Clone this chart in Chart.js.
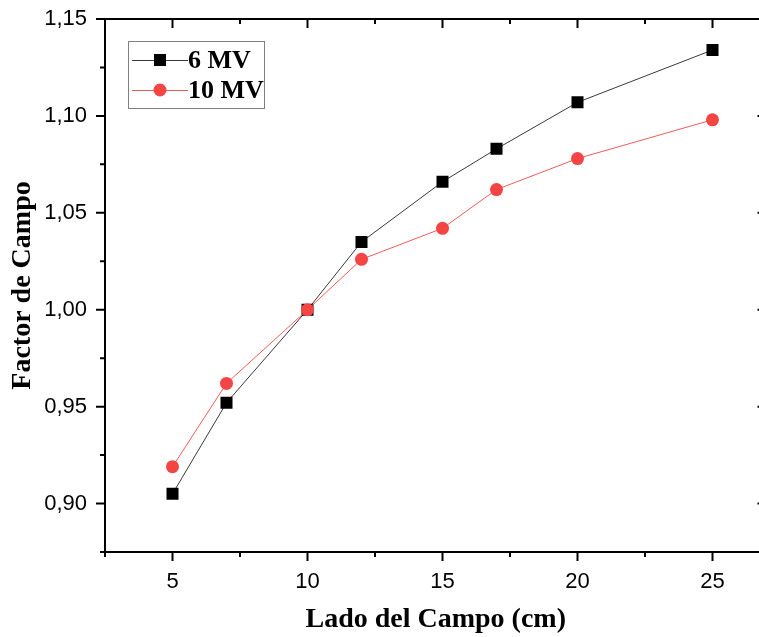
<!DOCTYPE html>
<html>
<head>
<meta charset="utf-8">
<title>Factor de Campo</title>
<script src="https://cdn.jsdelivr.net/npm/chart.js@4"></script>
<style>
  html, body { margin: 0; padding: 0; background: #fff; overflow: hidden; }
  .wrap { width: 775px; height: 637px; }
  #chart { display: block; }
</style>
</head>
<body>
<div class="wrap"><canvas id="chart" width="775" height="637"></canvas></div>
<script>
// Lado del campo (cm) y factor de campo medido para cada energía
const fieldSize = [5, 7, 10, 12, 15, 17, 20, 25];
const factor6MV = [0.905, 0.952, 1.000, 1.035, 1.066, 1.083, 1.107, 1.134];
const factor10MV = [0.919, 0.962, 1.000, 1.026, 1.042, 1.062, 1.078, 1.098];

// Marcas de los ejes (mayores y menores)
const xTicks = [2.5, 5, 7.5, 10, 12.5, 15, 17.5, 20, 22.5, 25];
const yTicks = [0.875, 0.9, 0.925, 0.95, 0.975, 1.0, 1.025, 1.05, 1.075, 1.1, 1.125, 1.15];

const isMajorX = v => Math.abs(v / 5 - Math.round(v / 5)) < 1e-6;
const isMajorY = v => Math.abs(v * 20 - Math.round(v * 20)) < 1e-6;

const serif = "'Liberation Serif', 'Times New Roman', serif";
const sans = "'Liberation Sans', Arial, sans-serif";

// tamaño fijo de cada eje, sin el margen extra que añade Chart.js por las etiquetas
function fixBox(s, size) {
    if (s.isHorizontal()) s.height = size; else s.width = size;
    s.paddingTop = s.paddingBottom = s.paddingLeft = s.paddingRight = 0;
}

// Marco completo con marcas: abajo/izquierda hacia fuera, arriba/derecha hacia dentro
const framePlugin = {
    id: 'frame',
    afterDraw(chart) {
        const { ctx, chartArea: a, scales } = chart;
        const major = 9, minor = 5;
        ctx.save();
        ctx.strokeStyle = '#000';
        ctx.lineWidth = 2;
        ctx.beginPath();
        scales.x.ticks.forEach(t => {
            const px = scales.x.getPixelForValue(t.value);
            const len = isMajorX(t.value) ? major : minor;
            ctx.moveTo(px, a.bottom); ctx.lineTo(px, a.bottom + len);
            ctx.moveTo(px, a.top); ctx.lineTo(px, a.top + len);
        });
        scales.y.ticks.forEach(t => {
            const py = scales.y.getPixelForValue(t.value);
            const len = isMajorY(t.value) ? major : minor;
            ctx.moveTo(a.left, py); ctx.lineTo(a.left - len, py);
            ctx.moveTo(a.right, py); ctx.lineTo(a.right - len, py);
        });
        ctx.stroke();
        ctx.strokeRect(a.left, a.top, a.right - a.left, a.bottom - a.top);
        ctx.restore();
    }
};

// Leyenda con línea y marcador, dentro de un recuadro gris
const legendPlugin = {
    id: 'boxLegend',
    afterDraw(chart) {
        const { ctx } = chart;
        const box = { x: 128, y: 41, w: 136, h: 67 };
        ctx.save();
        ctx.strokeStyle = '#808080';
        ctx.lineWidth = 1;
        ctx.strokeRect(box.x + 0.5, box.y + 0.5, box.w, box.h);
        chart.data.datasets.forEach((ds, i) => {
            const y = 60 + i * 30;
            ctx.strokeStyle = ds.borderColor;
            ctx.lineWidth = ds.borderWidth;
            ctx.beginPath();
            ctx.moveTo(132, y + 0.5);
            ctx.lineTo(188, y + 0.5);
            ctx.stroke();
            ctx.fillStyle = ds.pointBackgroundColor;
            Chart.helpers.drawPoint(ctx, {
                pointStyle: ds.pointStyle,
                radius: ds.pointRadius,
                borderWidth: 0,
                rotation: 0
            }, 160, y);
            ctx.fillStyle = '#000';
            ctx.font = 'bold 26px ' + serif;
            ctx.textBaseline = 'middle';
            ctx.textAlign = 'left';
            ctx.fillText(ds.label, 188, y + 1);
        });
        ctx.restore();
    }
};

new Chart(document.getElementById('chart'), {
    type: 'scatter',
    data: {
        datasets: [{
            label: '6 MV',
            data: fieldSize.map((x, i) => ({ x, y: factor6MV[i] })),
            showLine: true,
            borderColor: '#3a3a3a',
            borderWidth: 1,
            pointStyle: 'rect',
            pointRadius: 8.5,
            pointBackgroundColor: '#000',
            pointBorderWidth: 0,
            order: 1
        }, {
            label: '10 MV',
            data: fieldSize.map((x, i) => ({ x, y: factor10MV[i] })),
            showLine: true,
            borderColor: '#f45a5a',
            borderWidth: 1,
            pointStyle: 'circle',
            pointRadius: 6.5,
            pointBackgroundColor: '#f44545',
            pointBorderWidth: 0,
            order: 0
        }]
    },
    options: {
        responsive: false,
        maintainAspectRatio: false,
        animation: false,
        devicePixelRatio: 1,
        events: [],
        layout: { padding: { top: 19, right: 0, bottom: 0, left: 0 } },
        plugins: {
            legend: { display: false },
            tooltip: { enabled: false }
        },
        scales: {
            x: {
                type: 'linear',
                min: 2.5,
                max: 27,
                afterBuildTicks: s => { s.ticks = xTicks.map(v => ({ value: v })); },
                afterFit: s => fixBox(s, 85),
                grid: { display: false, drawTicks: false },
                border: { display: false },
                ticks: {
                    padding: 17,
                    color: '#000',
                    font: { family: sans, size: 22 },
                    maxRotation: 0,
                    autoSkip: false,
                    callback: v => isMajorX(v) ? String(v) : ''
                },
                title: {
                    display: true,
                    text: 'Lado del Campo (cm)',
                    color: '#000',
                    font: { family: serif, size: 28, weight: 'bold' },
                    padding: { top: 0, bottom: 0 }
                }
            },
            y: {
                type: 'linear',
                min: 0.875,
                max: 1.15,
                afterBuildTicks: s => { s.ticks = yTicks.map(v => ({ value: v })); },
                afterFit: s => fixBox(s, 105),
                grid: { display: false, drawTicks: false },
                border: { display: false },
                ticks: {
                    padding: 18,
                    color: '#000',
                    font: { family: sans, size: 22 },
                    autoSkip: false,
                    callback: v => isMajorY(v) ? v.toFixed(2).replace('.', ',') : ''
                },
                title: {
                    display: true,
                    text: 'Factor de Campo',
                    color: '#000',
                    font: { family: serif, size: 28, weight: 'bold' },
                    padding: { top: 6, bottom: 0 }
                }
            }
        }
    },
    plugins: [framePlugin, legendPlugin]
});
</script>
</body>
</html>
